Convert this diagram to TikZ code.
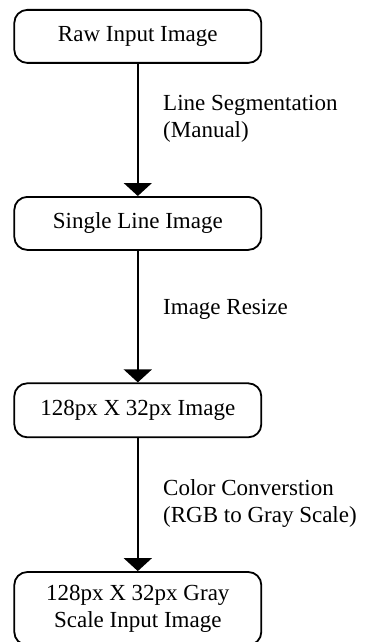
\documentclass[tikz,border=0pt]{standalone}
\usepackage{fontspec}
\setmainfont{Liberation Serif}
\usetikzlibrary{arrows.meta}
\begin{document}
\begin{tikzpicture}[x=1pt,y=-1pt,
  stage/.style={draw, line width=1.8pt, rounded corners=13pt, minimum width=247pt,
    inner sep=0pt, align=center, font=\fontsize{23}{27}\selectfont},
  flow/.style={line width=1.8pt, -{Triangle[length=13pt,width=28pt]}},
  note/.style={anchor=base west, align=left, inner sep=0pt,
    font=\fontsize{23}{27}\selectfont}]
\useasboundingbox (0,0) rectangle (368,642);

% processing stages
\node[stage, minimum height=53pt] (raw)    at (137.8,36.4)  {Raw Input Image};
\node[stage, minimum height=53pt] (single) at (137.8,223.4) {Single Line Image};
\node[stage, minimum height=54pt] (resized) at (137.8,410.3) {128px X 32px Image};
\node[stage, minimum height=73pt] (gray)   at (137.8,608.5) {128px X 32px Gray\\Scale Input Image};

% transitions
\draw[flow] (raw) -- (single);
\draw[flow] (single) -- (resized);
\draw[flow] (resized) -- (gray);

% step descriptions (base anchor sits on the last line)
\node[note] (seg) at (163,137) {Line Segmentation\\(Manual)};
\node[note] (rsz) at (163,314) {Image Resize};
\node[note] (cvt) at (163,522) {Color Converstion\\(RGB to Gray Scale)};
\end{tikzpicture}
\end{document}
